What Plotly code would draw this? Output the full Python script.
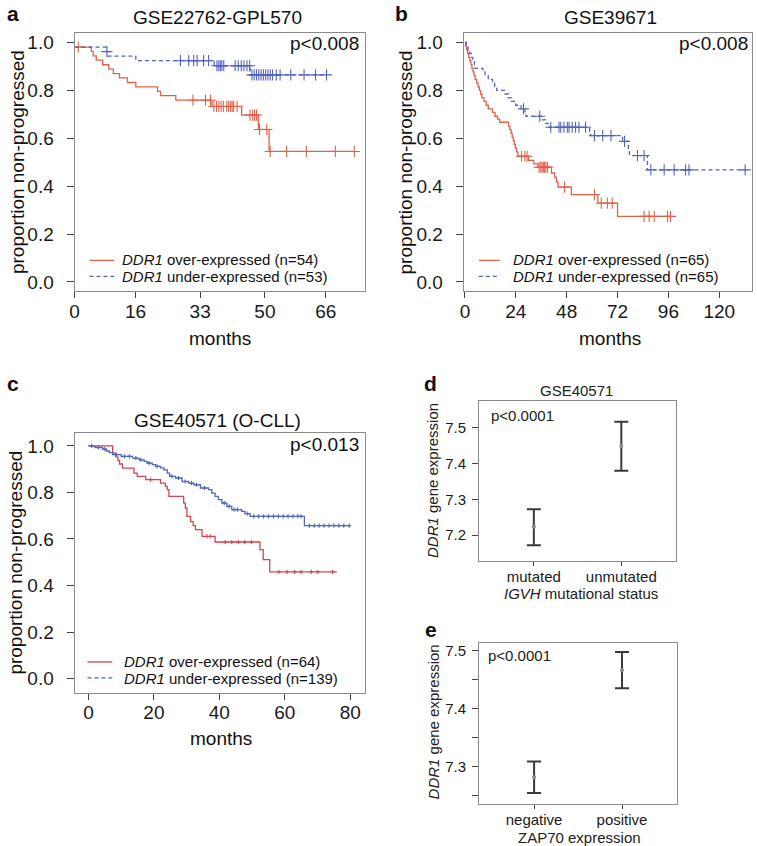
import numpy as np
import plotly.graph_objects as go

W, H = 757, 846
FONT = "Liberation Sans, Arial, Helvetica, sans-serif"

# ---------------- data ----------------
# Panel a : GSE22762-GPL570 (Kaplan-Meier steps: time in months, proportion)
a_over_t = [0, 4.4, 4.9, 5.7, 7.4, 9.0, 10.2, 11.8, 13.9, 16.1, 21.8, 22.6, 26.6, 36.1, 43.9, 48.3, 51.1, 73.5]
a_over_s = [0.981, 0.963, 0.944, 0.926, 0.907, 0.889, 0.870, 0.852, 0.833, 0.815, 0.796, 0.778, 0.759, 0.733, 0.697, 0.637, 0.545, 0.545]
a_over_cens = [1.0, 31.1, 34.4, 35.7, 36.6, 37.3, 37.9, 38.5, 39.1, 40.0, 40.5, 41.0, 41.4, 41.8, 42.7,
               46.1, 46.8, 47.3, 47.8, 48.6, 50.5, 51.4, 55.7, 60.9, 68.5, 73.5]
a_under_t = [0, 8.3, 8.8, 16.1, 36.7, 46.1, 66.2]
a_under_s = [0.981, 0.962, 0.943, 0.924, 0.903, 0.865, 0.865]
a_under_cens = [8.5, 27.8, 30.0, 31.3, 32.2, 33.9, 35.2, 37.4, 37.9, 38.3, 38.7, 39.2, 42.2, 43.0, 43.8, 44.5,
                45.3, 46.0, 46.6, 47.2, 47.8, 48.4, 49.0, 49.6, 50.2, 50.8, 51.4, 52.0, 53.0, 54.0, 56.8, 60.3, 63.3, 66.2]

# Panel b : GSE39671
b_over_t = [0, 0.3, 0.8, 1.3, 1.8, 2.3, 2.8, 3.3, 3.8, 4.3, 4.8, 5.5, 6.2, 6.8, 7.4, 8.0, 9.0, 10.0, 11.0,
            13.0, 14.2, 15.4, 16.4, 20.6, 21.2, 21.8, 22.3, 22.8, 23.3, 23.8, 24.3, 25.0, 30.0, 32.5, 34.5,
            40.8, 42.3, 43.2, 43.9, 50.2, 62.7, 72.0, 97.0]
b_over_s = [1.0, 0.985, 0.969, 0.954, 0.938, 0.923, 0.908, 0.892, 0.877, 0.862, 0.846, 0.831, 0.815, 0.800, 0.785,
            0.769, 0.754, 0.738, 0.723, 0.708, 0.692, 0.680, 0.667, 0.651, 0.636, 0.620, 0.605, 0.590, 0.574,
            0.559, 0.543, 0.525, 0.508, 0.493, 0.479, 0.455, 0.438, 0.417, 0.396, 0.365, 0.329, 0.274, 0.274]
b_over_cens = [26.7, 28.3, 29.3, 35.0, 35.8, 36.4, 37.0, 37.6, 38.2, 39.0, 47.0, 61.1, 64.3, 67.2, 69.5,
               84.5, 86.9, 89.3, 95.6, 97.0]
b_under_t = [0, 0.7, 1.5, 2.3, 3.0, 3.7, 4.5, 4.8, 8.5, 9.5, 11.0, 13.0, 14.0, 15.0, 19.0, 20.5, 22.0, 24.0,
             26.5, 28.3, 28.8, 36.1, 38.0, 39.2, 58.8, 59.3, 74.4, 77.1, 77.6, 86.1, 132.2]
b_under_s = [1.0, 0.985, 0.969, 0.954, 0.938, 0.923, 0.908, 0.892, 0.877, 0.862, 0.846, 0.831, 0.815, 0.800,
             0.785, 0.769, 0.754, 0.738, 0.723, 0.707, 0.692, 0.677, 0.662, 0.646, 0.628, 0.611, 0.587,
             0.555, 0.528, 0.468, 0.468]
b_under_cens = [27.6, 35.3, 40.5, 44.4, 45.2, 46.7, 48.3, 49.1, 50.6, 52.2, 53.8, 56.9, 61.1, 65.0, 68.9,
                75.3, 81.4, 84.5, 87.7, 94.0, 98.7, 104.1, 105.7, 132.2]

# Panel c : GSE40571 (O-CLL)
c_over_t = [0, 7.4, 8.4, 9.0, 9.5, 10.4, 13.9, 14.9, 17.5, 22.0, 23.5, 24.1, 24.6, 29.1, 29.6, 30.1, 31.2,
            32.0, 32.7, 34.7, 38.7, 52.4, 53.4, 55.4, 75.9]
c_over_s = [1.0, 0.969, 0.953, 0.937, 0.922, 0.904, 0.883, 0.869, 0.855, 0.840, 0.826, 0.812, 0.783, 0.754,
            0.733, 0.697, 0.675, 0.657, 0.640, 0.611, 0.587, 0.554, 0.511, 0.459, 0.459]
c_over_cens = [19.0, 36.2, 37.2, 41.8, 43.8, 45.8, 47.8, 49.8, 58.2, 60.7, 63.0, 65.0, 68.1, 70.1, 74.6]
c_under_t = [0, 2.0, 4.3, 5.5, 6.4, 7.4, 10.0, 13.5, 15.5, 17.0, 17.9, 19.5, 20.5, 22.0, 23.1, 24.1, 24.8,
             26.6, 28.6, 30.6, 32.2, 34.2, 36.7, 37.7, 38.7, 39.7, 40.8, 42.3, 43.8, 46.8, 47.8, 49.4, 66.0, 79.7]
c_under_s = [1.0, 0.993, 0.986, 0.978, 0.971, 0.962, 0.955, 0.947, 0.940, 0.933, 0.926, 0.919, 0.912, 0.905,
             0.897, 0.883, 0.869, 0.862, 0.847, 0.840, 0.833, 0.819, 0.812, 0.797, 0.783, 0.769, 0.754, 0.740,
             0.726, 0.719, 0.709, 0.697, 0.657, 0.657]
c_under_cens = [1.0, 3.0, 5.0, 8.5, 11.0, 12.5, 14.5, 16.0, 18.5, 21.0, 25.5, 27.5, 29.5, 31.5, 33.0, 35.5,
                41.5, 43.0, 44.5, 45.5, 48.5, 50.5, 52.0, 53.5, 55.0, 56.5, 58.0, 59.5, 61.0, 62.5, 64.0, 65.0,
                67.5, 69.0, 70.5, 72.0, 73.5, 75.0, 76.5, 78.0, 79.7]

# Panel d : IGVH mutational status
d_cats = ["mutated", "unmutated"]
d_mean = [7.224, 7.449]
d_upper = [7.272, 7.516]
d_lower = [7.172, 7.380]

# Panel e : ZAP70 expression
e_cats = ["negative", "positive"]
e_mean = [7.282, 7.466]
e_upper = [7.309, 7.497]
e_lower = [7.255, 7.435]

km_yticks = [0.0, 0.2, 0.4, 0.6, 0.8, 1.0]
km_yticklabels = ["0.0", "0.2", "0.4", "0.6", "0.8", "1.0"]
a_xticks = [0, 16, 33, 50, 66]
b_xticks = [0, 24, 48, 72, 96, 120]
c_xticks = [0, 20, 40, 60, 80]
d_yticks = [7.2, 7.3, 7.4, 7.5]
e_yticks = [7.25, 7.30, 7.35, 7.40, 7.45, 7.50]
e_yticklabels = ["", "7.3", "", "7.4", "", "7.5"]

# ---------------- styling ----------------
RED_AB = "#E2614B"
BLUE_AB = "#5362C2"
RED_C = "#D5454E"
BLUE_C = "#4F68BE"


def level_at(ts, ss, times):
    ts = np.asarray(ts)
    idx = np.searchsorted(ts, np.asarray(times), side="right") - 1
    return [ss[i] for i in idx]


fig = go.Figure()


def km(t, s, cens, color, dash, xa, ya, msym, msize):
    fig.add_trace(go.Scatter(x=t, y=s, mode="lines", xaxis=xa, yaxis=ya,
                             line=dict(shape="hv", color=color, width=1.3, dash=dash),
                             showlegend=False, hoverinfo="skip"))
    fig.add_trace(go.Scatter(x=cens, y=level_at(t, s, cens), mode="markers", xaxis=xa, yaxis=ya,
                             marker=dict(symbol=msym, size=msize, color=color,
                                         line=dict(width=1.1, color=color)),
                             showlegend=False, hoverinfo="skip"))


DASH = "4px,3px"
km(a_over_t, a_over_s, a_over_cens, RED_AB, "solid", "x", "y", "cross-thin", 8)
km(a_under_t, a_under_s, a_under_cens, BLUE_AB, DASH, "x", "y", "cross-thin", 8)
km(b_over_t, b_over_s, b_over_cens, RED_AB, "solid", "x2", "y2", "cross-thin", 8)
km(b_under_t, b_under_s, b_under_cens, BLUE_AB, DASH, "x2", "y2", "cross-thin", 8)
km(c_over_t, c_over_s, c_over_cens, RED_C, "solid", "x3", "y3", "cross-thin", 3)
km(c_under_t, c_under_s, c_under_cens, BLUE_C, "solid", "x3", "y3", "cross-thin", 3)


def errbars(cats, mean, up, lo, xa, ya):
    fig.add_trace(go.Scatter(
        x=cats, y=mean, mode="markers", xaxis=xa, yaxis=ya,
        marker=dict(size=4, color="#8a8a8a"),
        error_y=dict(type="data", symmetric=False,
                     array=[u - m for u, m in zip(up, mean)],
                     arrayminus=[m - l for m, l in zip(mean, lo)],
                     color="#3a3a3a", thickness=2, width=7),
        showlegend=False, hoverinfo="skip"))


errbars(d_cats, d_mean, d_upper, d_lower, "x4", "y4")
errbars(e_cats, e_mean, e_upper, e_lower, "x5", "y5")


def px(x):
    return x / W


def py(y):
    return 1 - y / H


def axis(dom, anchor, rng, size, **kw):
    d = dict(domain=dom, anchor=anchor, range=rng, showline=True, linecolor="#8c8c8c", linewidth=1,
             mirror=True, ticks="outside", tickcolor="#444", tickwidth=1, showgrid=False, zeroline=False,
             tickfont=dict(family=FONT, size=size, color="#1a1a1a"), fixedrange=True)
    d.update(kw)
    return d


KM_Y = dict(tickvals=km_yticks, ticktext=km_yticklabels, ticklen=7, ticklabelstandoff=9)
KM_X = dict(ticklen=6, ticklabelstandoff=-3)
fig.update_layout(
    xaxis=axis([px(70), px(362)], "y", [0, 76.2], 19, tickvals=a_xticks, **KM_X),
    yaxis=axis([py(291), py(32)], "x", [-0.039, 1.040], 19, **KM_Y),
    xaxis2=axis([px(461.7), px(751.7)], "y2", [-0.6, 135.3], 19, tickvals=b_xticks, **KM_X),
    yaxis2=axis([py(291), py(32)], "x2", [-0.039, 1.040], 19, **KM_Y),
    xaxis3=axis([px(70), px(362.7)], "y3", [-4.25, 84.6], 19, tickvals=c_xticks, **KM_X),
    yaxis3=axis([py(693.3), py(433.3)], "x3", [-0.060, 1.054], 19, **KM_Y),
    xaxis4=axis([px(477.3), px(675)], "y4", [-0.625, 1.62], 15, type="category", ticklen=4, ticklabelstandoff=-2),
    yaxis4=axis([py(561.7), py(401)], "x4", [7.127, 7.574], 15, tickvals=d_yticks, ticklen=6,
                ticklabelstandoff=3, tickformat=".1f"),
    xaxis5=axis([px(477.3), px(676)], "y5", [-0.625, 1.62], 15, type="category", ticklen=4, ticklabelstandoff=-2),
    yaxis5=axis([py(805), py(643.3)], "x5", [7.236, 7.513], 15, tickvals=e_yticks, ticktext=e_yticklabels,
                ticklen=6, ticklabelstandoff=3),
)


def ann(text, x, y, size, xanchor="center", angle=0, color="#111"):
    return dict(text=text, x=px(x), y=py(y), xref="paper", yref="paper", showarrow=False,
                font=dict(family=FONT, size=size, color=color), xanchor=xanchor, yanchor="middle",
                textangle=angle)


anns = [
    ann("<b>a</b>", 8, 13, 21), ann("<b>b</b>", 399, 13, 21), ann("<b>c</b>", 8, 383, 21),
    ann("<b>d</b>", 428, 383, 21), ann("<b>e</b>", 429, 630, 21),
    ann("GSE22762-GPL570", 214, 16.5, 19), ann("GSE39671", 610, 16.5, 19),
    ann("GSE40571 (O-CLL)", 214, 420, 19), ann("GSE40571", 575, 390, 15, color="#222"),
    ann("p<0.008", 358, 43, 19, "right"), ann("p<0.008", 750, 43, 19, "right"),
    ann("p<0.013", 358, 445, 19, "right"),
    ann("p<0.0001", 487, 415, 15, "left", color="#222"), ann("p<0.0001", 484, 656, 15, "left", color="#222"),
    ann("months", 216, 338, 19), ann("months", 609, 338, 19), ann("months", 217, 739, 19),
    ann("proportion non-progressed", 12, 161.5, 19, angle=-90),
    ann("proportion non-progressed", 403, 161.5, 19, angle=-90),
    ann("proportion non-progressed", 11, 563, 19, angle=-90),
    ann("<i>DDR1</i> gene expression", 431, 481, 15, angle=-90, color="#222"),
    ann("<i>DDR1</i> gene expression", 431, 723, 15, angle=-90, color="#222"),
    ann("<i>IGVH</i> mutational status", 580, 594, 15, color="#222"),
    ann("ZAP70 expression", 578, 838, 15, color="#222"),
    ann("<i>DDR1</i> over-expressed (n=54)", 116, 259.5, 15, "left"),
    ann("<i>DDR1</i> under-expressed (n=53)", 116, 276.5, 15, "left"),
    ann("<i>DDR1</i> over-expressed (n=65)", 509, 259.5, 15, "left"),
    ann("<i>DDR1</i> under-expressed (n=65)", 509, 276.5, 15, "left"),
    ann("<i>DDR1</i> over-expressed (n=64)", 118, 662, 15, "left"),
    ann("<i>DDR1</i> under-expressed (n=139)", 118, 679, 15, "left"),
]


def legline(x0, x1, y, color, dash):
    return dict(type="line", xref="paper", yref="paper", x0=px(x0), x1=px(x1), y0=py(y), y1=py(y),
                line=dict(color=color, width=1.3, dash=dash))


shapes = [
    legline(85, 110, 260, RED_AB, "solid"), legline(85, 110, 276, BLUE_AB, DASH),
    legline(477, 498, 260, RED_AB, "solid"), legline(477, 498, 276, BLUE_AB, DASH),
    legline(83, 108, 662.5, RED_C, "solid"), legline(83, 108, 678.5, BLUE_AB, DASH),
]

fig.update_layout(width=W, height=H, autosize=False, margin=dict(l=0, r=0, t=0, b=0),
                  paper_bgcolor="white", plot_bgcolor="white", showlegend=False,
                  annotations=anns, shapes=shapes, font=dict(family=FONT))

fig.write_html("out.html", config={"displayModeBar": False},
               post_script="document.body.style.margin='0';")
